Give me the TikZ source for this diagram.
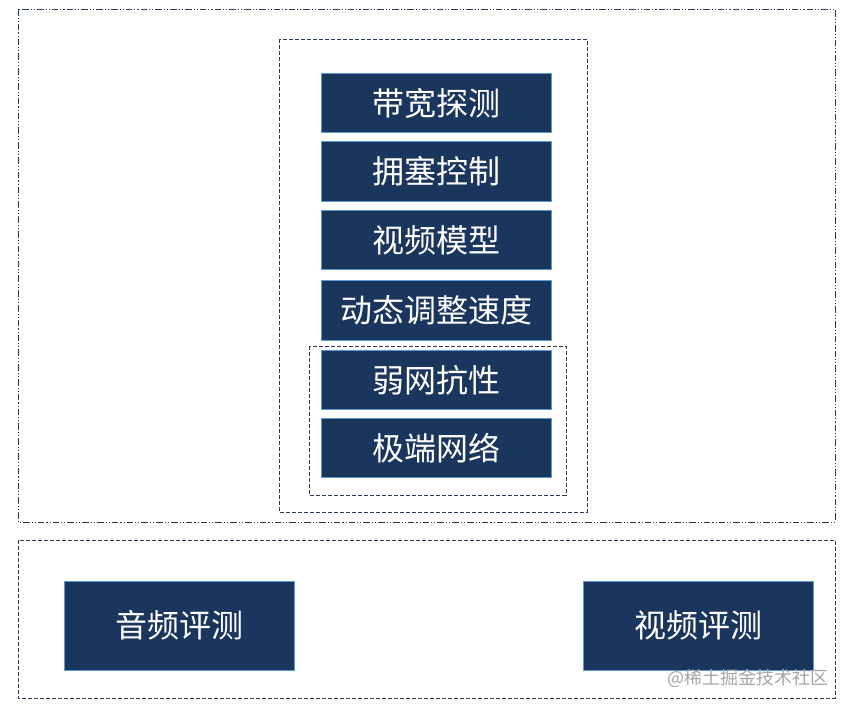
\documentclass[tikz,border=0pt]{standalone}
\usepackage{fontspec}
\setmainfont{Noto Sans CJK SC}
\usepackage{xcolor}
\usepackage{tikz}
\usetikzlibrary{shapes,arrows}
\definecolor{navy}{RGB}{26,54,93}
\definecolor{edgeblue}{RGB}{91,155,213}
\definecolor{framecol}{RGB}{40,60,85}
\tikzstyle{block} = [rectangle, draw=edgeblue, line width=0.6pt, fill=navy, text=white, font=\fontsize{24}{28}\selectfont, text centered, minimum width=172.5pt, minimum height=44.5pt, inner sep=0pt]
\tikzstyle{bigblock} = [block, minimum height=66.75pt]
\tikzstyle{frame} = [draw=framecol, line width=0.6pt, dash pattern=on 3pt off 1.5pt]
\tikzstyle{outerframe} = [draw=framecol, line width=0.7pt, dash pattern=on 5pt off 1.5pt on 0.8pt off 1.5pt on 0.8pt off 1.5pt]

\begin{document}
\begin{tikzpicture}[x=0.75pt, y=-0.75pt]
\useasboundingbox (0,0) rectangle (852,708);
% upper part
\draw [outerframe] (18,9) rectangle (835,522);
\draw [frame] (279,39) rectangle (587,512);
\draw [frame] (309,346) rectangle (566,495);
\node [block] (probe) at (436,103) {带宽探测};
\node [block] (congestion) at (436,171.5) {拥塞控制};
\node [block] (video-model) at (436,240) {视频模型};
\node [block] (rate-adjust) at (436,310.5) {动态调整速度};
\node [block] (weak-net) at (436,380) {弱网抗性};
\node [block] (extreme-net) at (436,448) {极端网络};
% lower part
\draw [frame] (18,540) rectangle (835,698);
\node [bigblock] (audio-eval) at (179,625.5) {音频评测};
\node [bigblock] (video-eval) at (698.5,625.5) {视频评测};
\node [text=gray!70, font=\fontsize{13.5}{16}\selectfont, anchor=east] (mark) at (833,678) {@稀土掘金技术社区};
\end{tikzpicture}
\end{document}
